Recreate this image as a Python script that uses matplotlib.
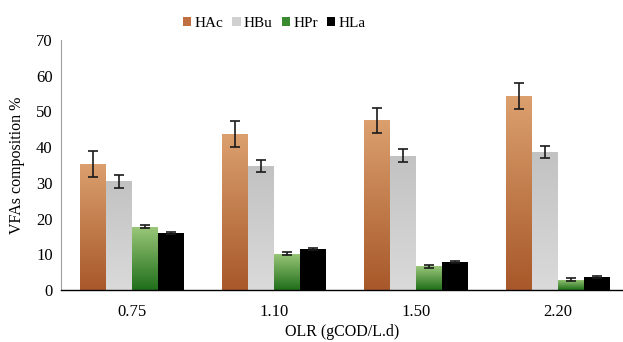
import numpy as np
import matplotlib
matplotlib.use("Agg")
import matplotlib.pyplot as plt
from matplotlib.colors import LinearSegmentedColormap
from matplotlib.patches import Patch

plt.rcParams['font.family'] = ['Liberation Serif', 'DejaVu Serif']

categories = ["0.75", "1.10", "1.50", "2.20"]
series = ["HAc", "HBu", "HPr", "HLa"]
hac = [35.3, 43.6, 47.5, 54.3]
hbu = [30.4, 34.7, 37.6, 38.6]
hpr = [17.7, 10.2, 6.6, 2.9]
hla = [16.0, 11.4, 7.8, 3.6]
hac_err = [3.6, 3.6, 3.6, 3.6]
hbu_err = [1.8, 1.75, 1.75, 1.75]
hpr_err = [0.4, 0.4, 0.4, 0.4]
hla_err = [0.3, 0.3, 0.3, 0.3]

values = [hac, hbu, hpr, hla]
errors = [hac_err, hbu_err, hpr_err, hla_err]
# gradient (bottom color, top color)
grads = [("#A8582A", "#DBA06E"), ("#DADADA", "#C2C2C2"),
         ("#1F6E1A", "#9CC87A"), ("#000000", "#000000")]
legend_cols = ["#C07040", "#D0D0D0", "#3A8A30", "#000000"]

fig = plt.figure(figsize=(6.23, 3.42), dpi=100)
ax = fig.add_axes([0.098, 0.152, 0.902, 0.731])

x = np.arange(len(categories))
w = 0.183
for i, (vals, errs, (c0, c1)) in enumerate(zip(values, errors, grads)):
    pos = x + (i - 1.5) * w
    bars = ax.bar(pos, vals, width=w, color=c1, edgecolor='none', zorder=2)
    cmap = LinearSegmentedColormap.from_list("g%d" % i, [c0, c1])
    grad = np.linspace(0, 1, 256).reshape(-1, 1)
    for b in bars:
        bx, by = b.get_x(), b.get_y()
        bw, bh = b.get_width(), b.get_height()
        im = ax.imshow(grad, cmap=cmap, origin='lower', aspect='auto',
                       extent=[bx, bx + bw, by, by + bh], zorder=2.5,
                       interpolation='bilinear')
        im.set_clip_path(b)
    ax.errorbar(pos, vals, yerr=errs, fmt='none', ecolor='#1a1a1a',
                elinewidth=1.2, capsize=3.5, capthick=1.2, zorder=4)

ax.set_xlim(-0.5, 3.46)
ax.set_ylim(0, 70)
ax.set_yticks(range(0, 71, 10))
ax.set_xticks(x)
ax.set_xticklabels(categories)
ax.tick_params(axis='both', length=0, labelsize=12)
ax.tick_params(axis='x', pad=10)
ax.tick_params(axis='y', pad=6)
for s in ['top', 'right']:
    ax.spines[s].set_visible(False)
ax.spines['left'].set_color('#A0A0A0')
ax.spines['left'].set_linewidth(0.8)
ax.spines['bottom'].set_color('#000000')
ax.spines['bottom'].set_linewidth(1.0)

ax.set_ylabel("VFAs composition %", fontsize=11.5, labelpad=8)
ax.set_xlabel("OLR (gCOD/L.d)", fontsize=11.5, labelpad=3)

handles = [Patch(facecolor=c, edgecolor='none') for c in legend_cols]
fig.legend(handles, series, loc='center', bbox_to_anchor=(0.44, 0.932),
           ncol=4, frameon=False, fontsize=11, handlelength=0.55,
           handleheight=0.55, handletextpad=0.2, columnspacing=0.6)

fig.savefig("out.png", dpi=100)
